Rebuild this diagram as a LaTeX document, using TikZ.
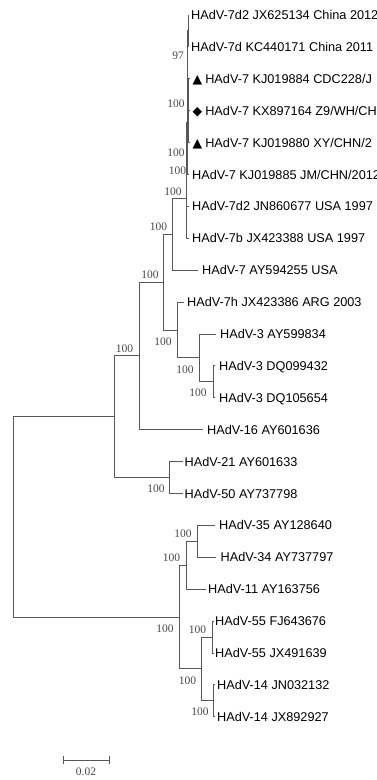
\documentclass[tikz,border=0pt]{standalone}
\usepackage{fontspec}
\setmainfont{Liberation Sans}
\newfontfamily\labfont{Liberation Serif}
\newfontfamily\symfont{DejaVu Sans}
\begin{document}
\begin{tikzpicture}[x=1pt,y=-1pt,
  br/.style={draw=black!66, line width=1pt},
  leaf/.style={anchor=base west, inner sep=0pt, font=\fontsize{12.7}{14}\selectfont},
  bs/.style={anchor=center, inner sep=0pt, text=black!72, font=\labfont\fontsize{11.5}{12}\selectfont},
  mk/.style={font=\symfont\fontsize{12.5}{13}\selectfont}]
\useasboundingbox (0,0) rectangle (377,780);
\fill[white] (0,0) rectangle (377,780);
\clip (0,0) rectangle (377,780);
% leaf tips
\coordinate (t1) at (189,15);
\coordinate (t2) at (189,46.9);
\coordinate (t3) at (189,78.8);
\coordinate (t4) at (189,110.7);
\coordinate (t5) at (189,142.6);
\coordinate (t6) at (189,174.5);
\coordinate (t7) at (189,206.4);
\coordinate (t8) at (189,238.3);
\coordinate (t9) at (198,270.2);
\coordinate (t10) at (184,302.1);
\coordinate (t11) at (216,334);
\coordinate (t12) at (215,365.9);
\coordinate (t13) at (215,397.8);
\coordinate (t14) at (203,429.7);
\coordinate (t15) at (183,461.6);
\coordinate (t16) at (183,493.5);
\coordinate (t17) at (215,525.4);
\coordinate (t18) at (216,557.3);
\coordinate (t19) at (206,589.2);
\coordinate (t20) at (214,621.1);
\coordinate (t21) at (214,653);
\coordinate (t22) at (215,684.9);
\coordinate (t23) at (215,716.8);
% leaf labels
\node[leaf] (l1) at (191,19.5) {HAdV-7d2 JX625134 China 2012};
\node[leaf] (l2) at (191,51.4) {HAdV-7d KC440171 China 2011};
\node[leaf] (l3) at (192.5,83.3) {{\symfont\fontsize{12.5}{13}\selectfont ▲}\hspace{3pt}HAdV-7 KJ019884 CDC228/J};
\node[leaf] (l4) at (192.5,115.2) {{\symfont\fontsize{12.5}{13}\selectfont ◆}\hspace{3pt}HAdV-7 KX897164 Z9/WH/CH};
\node[leaf] (l5) at (192.5,147.1) {{\symfont\fontsize{12.5}{13}\selectfont ▲}\hspace{3pt}HAdV-7 KJ019880 XY/CHN/2};
\node[leaf] (l6) at (192,179) {HAdV-7 KJ019885 JM/CHN/2012};
\node[leaf] (l7) at (192,210.9) {HAdV-7d2 JN860677 USA 1997};
\node[leaf] (l8) at (192,242.8) {HAdV-7b JX423388 USA 1997};
\node[leaf] (l9) at (202,274.7) {HAdV-7 AY594255 USA};
\node[leaf] (l10) at (187,306.6) {HAdV-7h JX423386 ARG 2003};
\node[leaf] (l11) at (220,338.5) {HAdV-3 AY599834};
\node[leaf] (l12) at (219,370.4) {HAdV-3 DQ099432};
\node[leaf] (l13) at (219,402.3) {HAdV-3 DQ105654};
\node[leaf] (l14) at (207,434.2) {HAdV-16 AY601636};
\node[leaf] (l15) at (184.5,466.1) {HAdV-21 AY601633};
\node[leaf] (l16) at (184.5,498) {HAdV-50 AY737798};
\node[leaf] (l17) at (219,529.9) {HAdV-35 AY128640};
\node[leaf] (l18) at (220.5,561.8) {HAdV-34 AY737797};
\node[leaf] (l19) at (208,593.7) {HAdV-11 AY163756};
\node[leaf] (l20) at (215,625.6) {HAdV-55 FJ643676};
\node[leaf] (l21) at (215,657.5) {HAdV-55 JX491639};
\node[leaf] (l22) at (217,689.4) {HAdV-14 JN032132};
\node[leaf] (l23) at (217,721.3) {HAdV-14 JX892927};
% internal nodes
\coordinate (nA) at (188,30.95);
\coordinate (nB) at (188.5,110.7);
\coordinate (nC) at (187.5,70.8);
\coordinate (nD) at (187,122.7);
\coordinate (nE) at (186.5,164.5);
\coordinate (nF) at (186.5,198);
\coordinate (u111) at (172,234.1);
\coordinate (u11211) at (213,381.85);
\coordinate (u1121) at (199,357.9);
\coordinate (u112) at (177,330);
\coordinate (u11) at (163,282.05);
\coordinate (u1) at (139,355.9);
\coordinate (u2) at (169,477.55);
\coordinate (u) at (114,416.7);
\coordinate (b11) at (197,541.35);
\coordinate (b1) at (186,565.3);
\coordinate (b21) at (212,637.05);
\coordinate (b22) at (213,700.85);
\coordinate (b2) at (201,668.95);
\coordinate (b) at (179,617.1);
\coordinate (root) at (13,516.9);
% branches
\foreach \p/\c in {nA/t1,nA/t2,nB/t3,nB/t4,nB/t5,nC/nA,nC/nB,nD/nC,nD/t6,
  nE/nD,nE/t7,nF/nE,nF/t8,u111/nF,u111/t9,u11211/t12,u11211/t13,
  u1121/t11,u1121/u11211,u112/t10,u112/u1121,u11/u111,u11/u112,
  u1/u11,u1/t14,u2/t15,u2/t16,u/u1,u/u2,
  b11/t17,b11/t18,b1/b11,b1/t19,b21/t20,b21/t21,b22/t22,b22/t23,
  b2/b21,b2/b22,b/b1,b/b2,root/u,root/b}
  \draw[br] (\p) |- (\c);
% bootstrap values
\node[bs] (s1) at (178,56) {97};
\node[bs] (s2) at (176,104) {100};
\node[bs] (s3) at (176,153) {100};
\node[bs] (s4) at (177.5,171) {100};
\node[bs] (s5) at (173,192) {100};
\node[bs] (s6) at (158.5,227) {100};
\node[bs] (s7) at (150,275) {100};
\node[bs] (s8) at (124.5,349) {100};
\node[bs] (s9) at (163,342) {100};
\node[bs] (s10) at (185,370) {100};
\node[bs] (s11) at (198,393) {100};
\node[bs] (s12) at (156,489) {100};
\node[bs] (s13) at (183,534) {100};
\node[bs] (s14) at (171.5,558) {100};
\node[bs] (s15) at (165,629) {100};
\node[bs] (s16) at (197.5,630) {100};
\node[bs] (s17) at (187.5,681) {100};
\node[bs] (s18) at (200,712) {100};
% scale bar
\coordinate (sa) at (63,760);
\coordinate (sb) at (109,760);
\draw[br] (sa) -- (sb);
\draw[br] ([yshift=4pt]sa) -- ([yshift=-4pt]sa);
\draw[br] ([yshift=4pt]sb) -- ([yshift=-4pt]sb);
\node[bs] (sl) at (86,772) {0.02};
\end{tikzpicture}
\end{document}
